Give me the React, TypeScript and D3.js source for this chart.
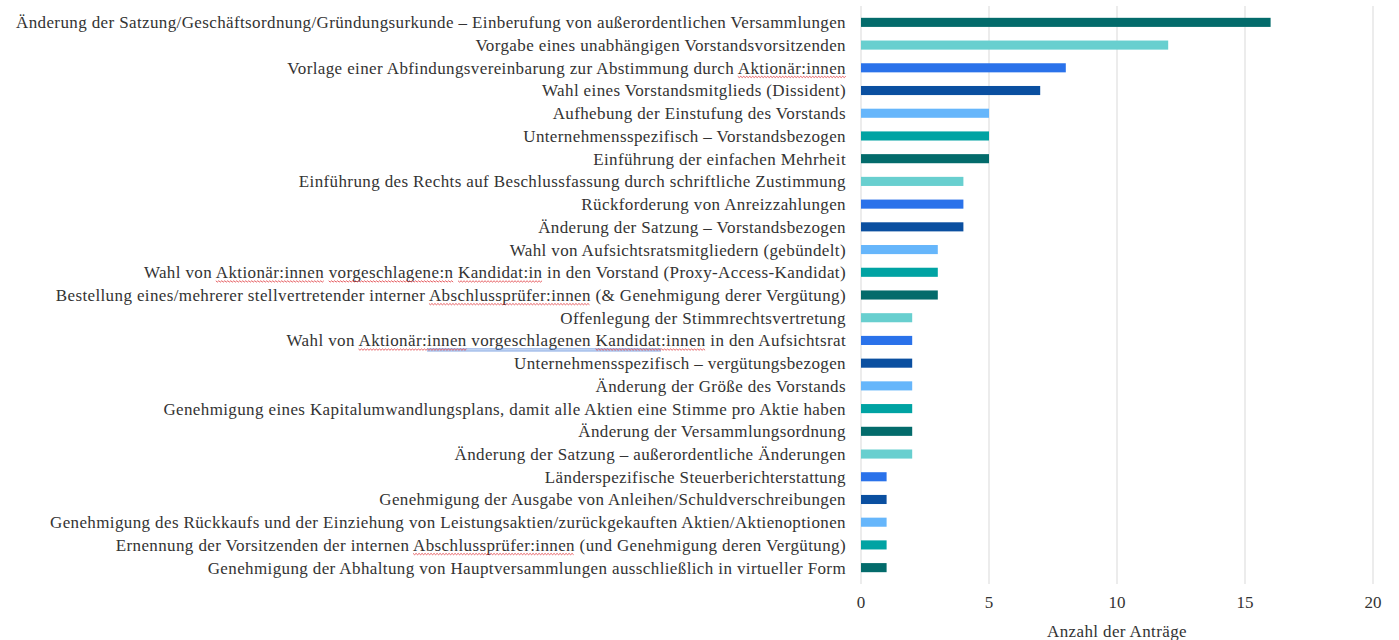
import React, { useEffect, useRef } from 'react';
import * as d3 from 'd3';

const categories = [
  'Änderung der Satzung/Geschäftsordnung/Gründungsurkunde – Einberufung von außerordentlichen Versammlungen',
  'Vorgabe eines unabhängigen Vorstandsvorsitzenden',
  'Vorlage einer Abfindungsvereinbarung zur Abstimmung durch Aktionär:innen',
  'Wahl eines Vorstandsmitglieds (Dissident)',
  'Aufhebung der Einstufung des Vorstands',
  'Unternehmensspezifisch – Vorstandsbezogen',
  'Einführung der einfachen Mehrheit',
  'Einführung des Rechts auf Beschlussfassung durch schriftliche Zustimmung',
  'Rückforderung von Anreizzahlungen',
  'Änderung der Satzung – Vorstandsbezogen',
  'Wahl von Aufsichtsratsmitgliedern (gebündelt)',
  'Wahl von Aktionär:innen vorgeschlagene:n Kandidat:in in den Vorstand (Proxy-Access-Kandidat)',
  'Bestellung eines/mehrerer stellvertretender interner Abschlussprüfer:innen (& Genehmigung derer Vergütung)',
  'Offenlegung der Stimmrechtsvertretung',
  'Wahl von Aktionär:innen vorgeschlagenen Kandidat:innen in den Aufsichtsrat',
  'Unternehmensspezifisch – vergütungsbezogen',
  'Änderung der Größe des Vorstands',
  'Genehmigung eines Kapitalumwandlungsplans, damit alle Aktien eine Stimme pro Aktie haben',
  'Änderung der Versammlungsordnung',
  'Änderung der Satzung – außerordentliche Änderungen',
  'Länderspezifische Steuerberichterstattung',
  'Genehmigung der Ausgabe von Anleihen/Schuldverschreibungen',
  'Genehmigung des Rückkaufs und der Einziehung von Leistungsaktien/zurückgekauften Aktien/Aktienoptionen',
  'Ernennung der Vorsitzenden der internen Abschlussprüfer:innen (und Genehmigung deren Vergütung)',
  'Genehmigung der Abhaltung von Hauptversammlungen ausschließlich in virtueller Form',
];

const values = [16, 12, 8, 7, 5, 5, 5, 4, 4, 4, 3, 3, 3, 2, 2, 2, 2, 2, 2, 2, 1, 1, 1, 1, 1];

const palette = ['#036b6b', '#68cfcf', '#2a72ea', '#0a4fa0', '#66b6fb', '#00a3a3'];

const xTicks = [0, 5, 10, 15, 20];

// spell-check squiggles visible in the source
const marked = ['Aktionär:innen', 'vorgeschlagene:n', 'Kandidat:innen', 'Kandidat:in ', 'Abschlussprüfer:innen'];
const grammarMarked = ['Aktionär:innen vorgeschlagenen Kandidat:innen'];

const App: React.FC = () => {
  const svgRef = useRef<SVGSVGElement>(null);

  useEffect(() => {
    if (!svgRef.current) return;
    const svg = d3.select(svgRef.current);
    svg.selectAll('*').remove();

    const font = "'Liberation Serif', 'Times New Roman', serif";
    const fs = 17;
    const ls = 0.38;
    const x = d3.scaleLinear().domain([0, 20]).range([861, 1373]);
    const y = d3.scaleBand().domain(categories).range([11, 579]).paddingInner(0.6).paddingOuter(0.3);

    const g = svg.append('g');

    g.selectAll('line.grid')
      .data(xTicks)
      .enter()
      .append('line')
      .attr('x1', d => x(d))
      .attr('x2', d => x(d))
      .attr('y1', 6)
      .attr('y2', 584)
      .attr('stroke', '#d9d9d9')
      .attr('stroke-width', 1);

    g.selectAll('rect.bar')
      .data(values)
      .enter()
      .append('rect')
      .attr('x', x(0))
      .attr('y', (d, i) => y(categories[i])!)
      .attr('width', d => x(d) - x(0))
      .attr('height', y.bandwidth())
      .attr('fill', (d, i) => palette[i % palette.length]);

    const labels = g.selectAll('text.label')
      .data(categories)
      .enter()
      .append('text')
      .attr('x', 846)
      .attr('y', d => y(d)! + y.bandwidth() / 2)
      .attr('dy', '0.35em')
      .attr('text-anchor', 'end')
      .attr('font-family', font)
      .attr('font-size', fs)
      .attr('letter-spacing', ls)
      .attr('fill', '#333')
      .text(d => d);

    labels.each(function (d) {
      const el = this as SVGTextElement;
      const baseY = y(d)! + y.bandwidth() / 2 + 8.5;
      grammarMarked.forEach(phrase => {
        const idx = d.indexOf(phrase);
        if (idx < 0) return;
        const start = idx + 'Aktionär:'.length;
        const end = idx + phrase.length - ':innen'.length;
        const x0 = el.getStartPositionOfChar(start).x;
        const x1 = el.getEndPositionOfChar(end - 1).x;
        [0, 2].forEach(off => {
          g.append('line')
            .attr('x1', x0).attr('x2', x1)
            .attr('y1', baseY + off).attr('y2', baseY + off)
            .attr('stroke', '#4a7fd6')
            .attr('stroke-width', 0.8);
        });
      });
      marked.forEach(word => {
        let idx = d.indexOf(word);
        while (idx >= 0) {
          const len = word.trim().length;
          const x0 = el.getStartPositionOfChar(idx).x;
          const x1 = el.getEndPositionOfChar(idx + len - 1).x;
          const pts: string[] = [];
          let k = 0;
          for (let xx = x0; xx <= x1; xx += 1.5, k++) {
            pts.push(`${xx},${baseY + (k % 2 === 0 ? 0 : 1.3)}`);
          }
          g.append('polyline')
            .attr('points', pts.join(' '))
            .attr('fill', 'none')
            .attr('stroke', '#e0393e')
            .attr('stroke-width', 0.8);
          idx = d.indexOf(word, idx + 1);
        }
      });
    });

    g.selectAll('text.tick')
      .data(xTicks)
      .enter()
      .append('text')
      .attr('x', d => x(d))
      .attr('y', 608)
      .attr('text-anchor', 'middle')
      .attr('font-family', font)
      .attr('font-size', fs)
      .attr('fill', '#333')
      .text(d => d);

    g.append('text')
      .attr('x', (x(0) + x(20)) / 2)
      .attr('y', 637)
      .attr('text-anchor', 'middle')
      .attr('font-family', font)
      .attr('font-size', fs)
      .attr('letter-spacing', ls)
      .attr('fill', '#333')
      .text('Anzahl der Anträge');
  }, []);

  return (
    <svg
      ref={svgRef}
      width={1399}
      height={640}
      style={{ position: 'absolute', left: 0, top: 0, background: '#fff' }}
    />
  );
};

export default App;
